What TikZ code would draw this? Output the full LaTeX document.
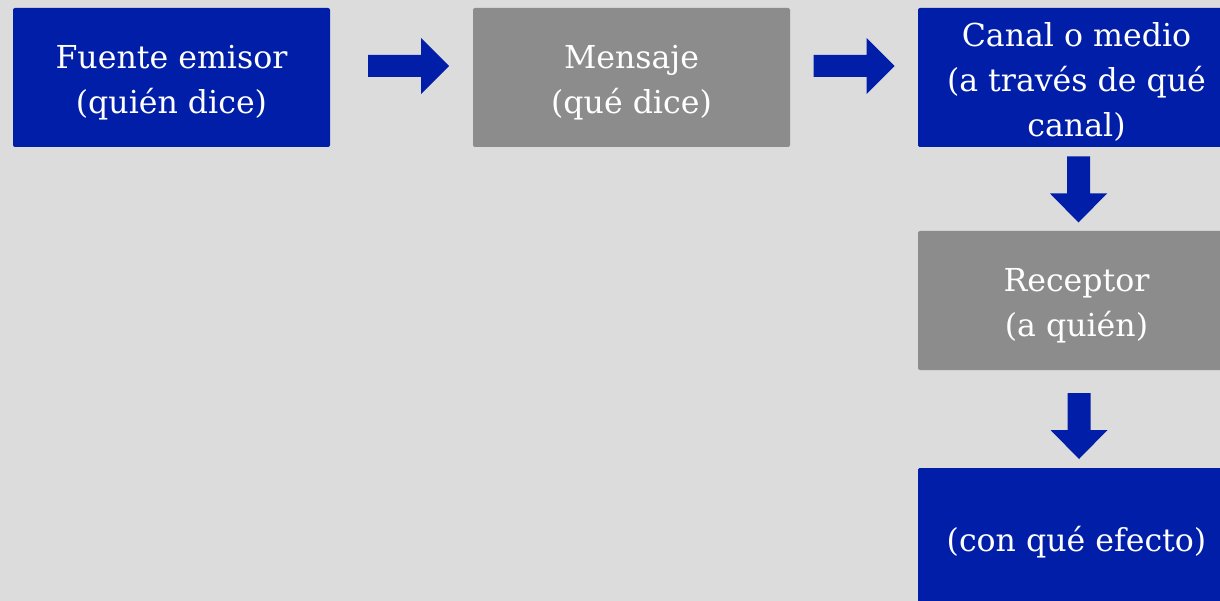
\documentclass[tikz,border=0pt]{standalone}
\usepackage{fontspec}
\setmainfont{DejaVu Serif}
\definecolor{bgc}{HTML}{DCDCDD}
\definecolor{boxblue}{HTML}{001EA8}
\definecolor{boxgray}{HTML}{8C8C8C}
\tikzset{
  every picture/.style={x=1pt,y=-1pt},
  box/.style={rounded corners=2pt, minimum width=317pt, minimum height=139pt,
    inner sep=0pt},
  bluebox/.style={box, fill=boxblue},
  graybox/.style={box, fill=boxgray},
  boxtext/.style={text=white, align=center, inner sep=0pt,
    font=\fontsize{31.6}{45}\selectfont},
  rarrow/.pic={\fill[boxblue] (-40.5,-11) -- (12.5,-11) -- (12.5,-28) -- (40.5,0)
     -- (12.5,28) -- (12.5,11) -- (-40.5,11) -- cycle;},
  darrow/.pic={\fill[boxblue] (-11.5,-33) -- (11.5,-33) -- (11.5,4) -- (28.5,4)
     -- (0,33) -- (-28.5,4) -- (-11.5,4) -- cycle;}
}
\begin{document}
\begin{tikzpicture}
\useasboundingbox (0,0) rectangle (1220,601);
\clip (0,0) rectangle (1220,601);
\fill[bgc] (0,0) rectangle (1220,601);
\node[bluebox] (fuente) at (171.5,77.5) {};
\node[graybox] (mensaje) at (631.5,77.5) {};
\node[bluebox] (canal) at (1076.5,77.5) {};
\node[graybox] (receptor) at (1076.5,300.5) {};
\node[bluebox] (efecto) at (1076.5,537.5) {};
\node[boxtext] (fuente-t) at ([yshift=-5pt]fuente.center) {Fuente emisor\\(quién dice)};
\node[boxtext] (mensaje-t) at ([yshift=-5pt]mensaje.center) {Mensaje\\(qué dice)};
\node[boxtext] (canal-t) at ([yshift=-4pt]canal.center) {Canal o medio\\(a través de qué\\canal)};
\node[boxtext] (receptor-t) at ([yshift=-5pt]receptor.center) {Receptor\\(a quién)};
\node[boxtext] (efecto-t) at ([yshift=-5pt]efecto.center) {(con qué efecto)};
\pic (a1) at (408.5,66) {rarrow};
\pic (a2) at (854,66) {rarrow};
\pic (a3) at (1078.5,189.5) {darrow};
\pic (a4) at (1079,426) {darrow};
\end{tikzpicture}
\end{document}
